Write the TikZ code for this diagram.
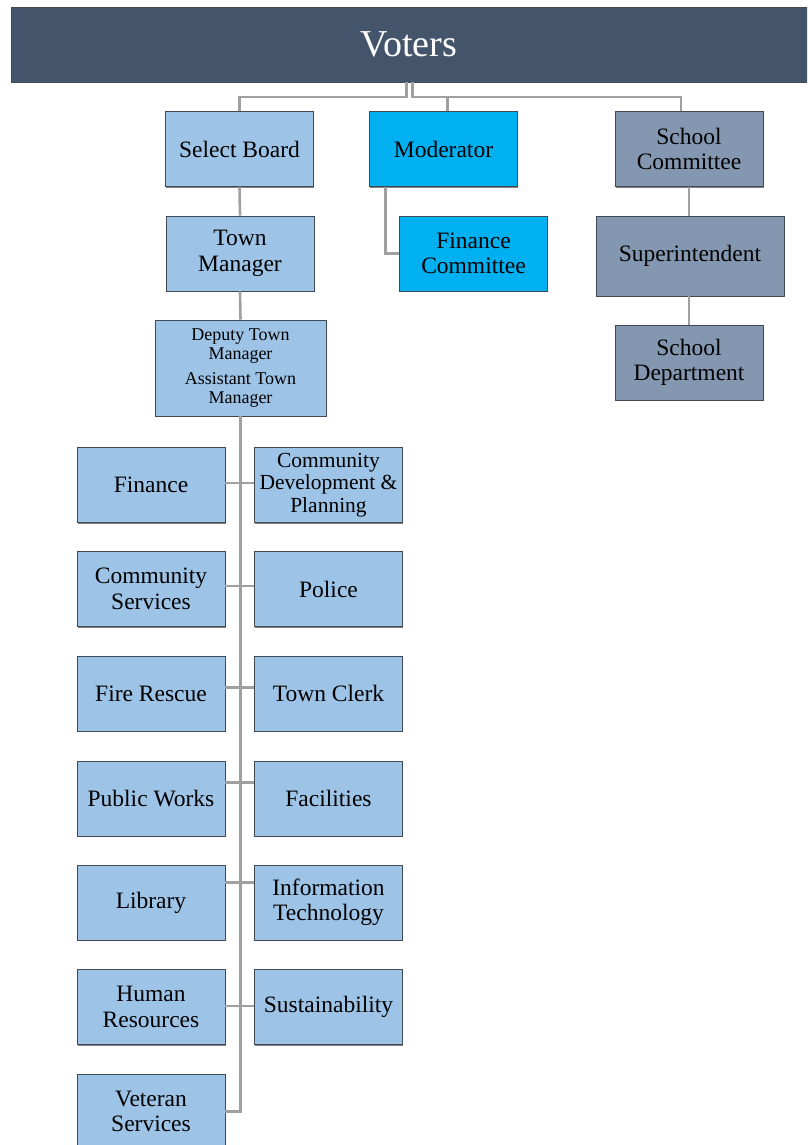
\documentclass[tikz,border=0pt]{standalone}
\usepackage{fontspec}
\setmainfont{Liberation Serif}
\usetikzlibrary{calc,shadows}
\definecolor{hdr}{HTML}{44546A}
\definecolor{lblue}{HTML}{9DC3E6}
\definecolor{cyanb}{HTML}{00B0F0}
\definecolor{slate}{HTML}{8497B0}
\definecolor{edge}{HTML}{404A55}
\definecolor{conn}{HTML}{A0A0A0}
\tikzset{
  x=1pt, y=-1pt,
  orgbox/.style={draw=edge, line width=0.9pt, minimum width=148pt, minimum height=75pt,
    inner sep=1pt, align=center, font=\fontsize{23.5}{25.5}\selectfont,
    drop shadow={shadow xshift=0.6pt, shadow yshift=-1.4pt, opacity=0.7, fill=black!70}},
  bluebox/.style={orgbox, fill=lblue},
  cyanbox/.style={orgbox, fill=cyanb},
  slatebox/.style={orgbox, fill=slate},
  cline/.style={draw=conn, line width=2.6pt},
}
\begin{document}
\begin{tikzpicture}
\useasboundingbox (0,0) rectangle (807,1145);
\fill[white] (0,0) rectangle (807,1145);
\begin{scope}
\clip (0,0) rectangle (807,1145);
\node[draw=edge, line width=0.8pt, fill=hdr, minimum width=796pt, minimum height=75pt, inner sep=0pt,
  text=white, font=\fontsize{38}{40}\selectfont] (voters) at (409,44.5) {Voters};
\coordinate (hy) at (0,97);

\node[bluebox] (sb) at (239.5,149) {Select Board};
\node[cyanbox] (mod) at (443.5,149) {Moderator};
\node[slatebox] (sc) at (689,149) {School\\Committee};
\node[bluebox] (tm) at (240,253.5) {Town\\Manager};
\node[cyanbox] (fc) at (473.5,253.5) {Finance\\Committee};
\node[slatebox, minimum width=188pt, minimum height=80pt] (sup) at (690,256) {Superintendent};
\node[slatebox] (sd) at (689,362.5) {School\\Department};
\node[bluebox, minimum width=171pt, minimum height=96pt, font=\fontsize{18}{19.5}\selectfont] (dep) at (240.5,368)
  {Deputy Town\\Manager\\[5pt]Assistant Town\\Manager};

\node[bluebox] (fin) at (151,485) {Finance};
\node[bluebox, font=\fontsize{21.5}{22.5}\selectfont] (cdp) at (328.5,485) {Community\\Development \&\\Planning};
\node[bluebox] (cs) at (151,589) {Community\\Services};
\node[bluebox] (pol) at (328.5,589) {Police};
\node[bluebox] (fr) at (151,693.5) {Fire Rescue};
\node[bluebox] (tc) at (328.5,693.5) {Town Clerk};
\node[bluebox] (pw) at (151,798.5) {Public Works};
\node[bluebox] (fac) at (328.5,798.5) {Facilities};
\node[bluebox] (lib) at (151,902.5) {Library};
\node[bluebox] (it) at (328.5,902.5) {Information\\Technology};
\node[bluebox] (hr) at (151,1007) {Human\\Resources};
\node[bluebox] (sus) at (328.5,1007) {Sustainability};
\node[bluebox] (vet) at (151,1111.5) {Veteran\\Services};
\end{scope}
\begin{scope}
\clip (0,0) rectangle (807,1145);
\draw[cline] ([xshift=-2.5pt]voters.south) -- ([xshift=-2.5pt]voters.south |- hy) -| (sb.north);
\draw[cline] ([xshift=3.5pt]voters.south) -- ([xshift=3.5pt]voters.south |- hy) -| ([xshift=-8pt]sc.north);
\draw[cline] ([xshift=4pt]mod.north) -- ([xshift=4pt]mod.north |- hy);
\draw[cline] (sb.south) -- (tm.north);
\draw[cline] (tm.south) -- (dep.north);
\draw[cline] ([xshift=-58pt]mod.south) |- (fc.west);
\draw[cline] (sc.south) -- (sc.south |- sup.north);
\draw[cline] (sd.north) -- (sd.north |- sup.south);
\draw[cline] (dep.south) |- (vet.east);
\draw[cline] ([yshift=2pt]fin.east) -- ([yshift=2pt]cdp.west);
\draw[cline] ([yshift=3pt]cs.east) -- ([yshift=3pt]pol.west);
\draw[cline] ([yshift=6pt]fr.east) -- ([yshift=6pt]tc.west);
\draw[cline] ([yshift=16pt]pw.east) -- ([yshift=16pt]fac.west);
\draw[cline] ([yshift=20pt]lib.east) -- ([yshift=20pt]it.west);
\draw[cline] ([yshift=1pt]hr.east) -- ([yshift=1pt]sus.west);
\end{scope}
\end{tikzpicture}
\end{document}
